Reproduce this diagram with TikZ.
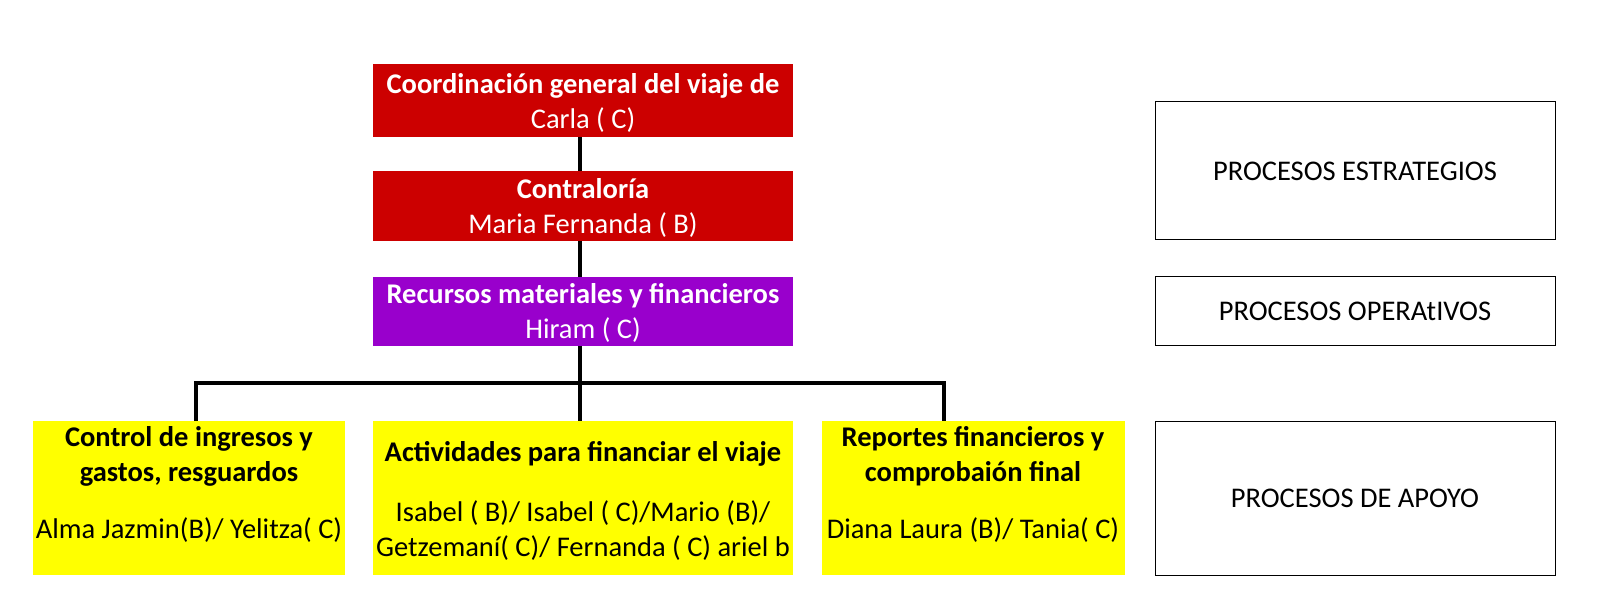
\documentclass[tikz,border=0pt]{standalone}
\usepackage{fontspec}
\setmainfont{Carlito}
\begin{document}
\begin{tikzpicture}[x=1pt,y=-1pt,
 conn/.style={line width=3.5pt},
 txt/.style={font=\fontsize{28.5}{35}\selectfont,align=center}]
\useasboundingbox (0,0) rectangle (1600,612);
\definecolor{rd}{HTML}{CC0000}\definecolor{pu}{HTML}{9900CC}\definecolor{ye}{HTML}{FFFF00}
% boxes
\fill[rd] (373,64) rectangle (793,137);
\fill[rd] (373,171) rectangle (793,241);
\fill[pu] (373,277) rectangle (793,346);
\fill[ye] (33,421) rectangle (345,575);
\fill[ye] (373,421) rectangle (793,575);
\fill[ye] (822,421) rectangle (1125,575);
\draw[line width=1pt] (1155,102) rectangle (1555,240) (1155,277) rectangle (1555,345) (1155,421) rectangle (1555,575);
% connectors
\coordinate (a1) at (580,137); \coordinate (a2) at (580,171);
\coordinate (b1) at (580,241); \coordinate (b2) at (580,277);
\coordinate (c1) at (580,346); \coordinate (c2) at (580,421);
\coordinate (l) at (196,421); \coordinate (r) at (944,421);
\draw[conn] (a1)--(a2); \draw[conn] (b1)--(b2); \draw[conn] (c1)--(c2);
\draw[conn,line join=miter] (l)--(196,383)--(944,383)--(r);
% texts
\node[txt,text=white] (n1) at (583,103) {\textbf{Coordinación general del viaje de}\\Carla ( C)};
\node[txt,text=white] (n2) at (583,208) {\textbf{Contraloría}\\Maria Fernanda ( B)};
\node[txt,text=white] (n3) at (583,313) {\textbf{Recursos materiales y financieros}\\Hiram ( C)};
\node[txt] (y1) at (189,456) {\textbf{Control de ingresos y}\\\textbf{gastos, resguardos}};
\node[txt] (y1b) at (189,530) {Alma Jazmin(B)/ Yelitza( C)};
\node[txt] (y2) at (583,454) {\textbf{Actividades para financiar el viaje}};
\node[txt] (y2b) at (583,531) {Isabel ( B)/ Isabel ( C)/Mario (B)/\\Getzemaní( C)/ Fernanda ( C) ariel b};
\node[txt] (y3) at (973,456) {\textbf{Reportes financieros y}\\\textbf{comprobaión final}};
\node[txt] (y3b) at (973,530) {Diana Laura (B)/ Tania( C)};
\node[txt] (p1) at (1355,171) {PROCESOS ESTRATEGIOS};
\node[txt] (p2) at (1355,311) {PROCESOS OPERAtIVOS};
\node[txt] (p3) at (1355,498) {PROCESOS DE APOYO};
\end{tikzpicture}
\end{document}
